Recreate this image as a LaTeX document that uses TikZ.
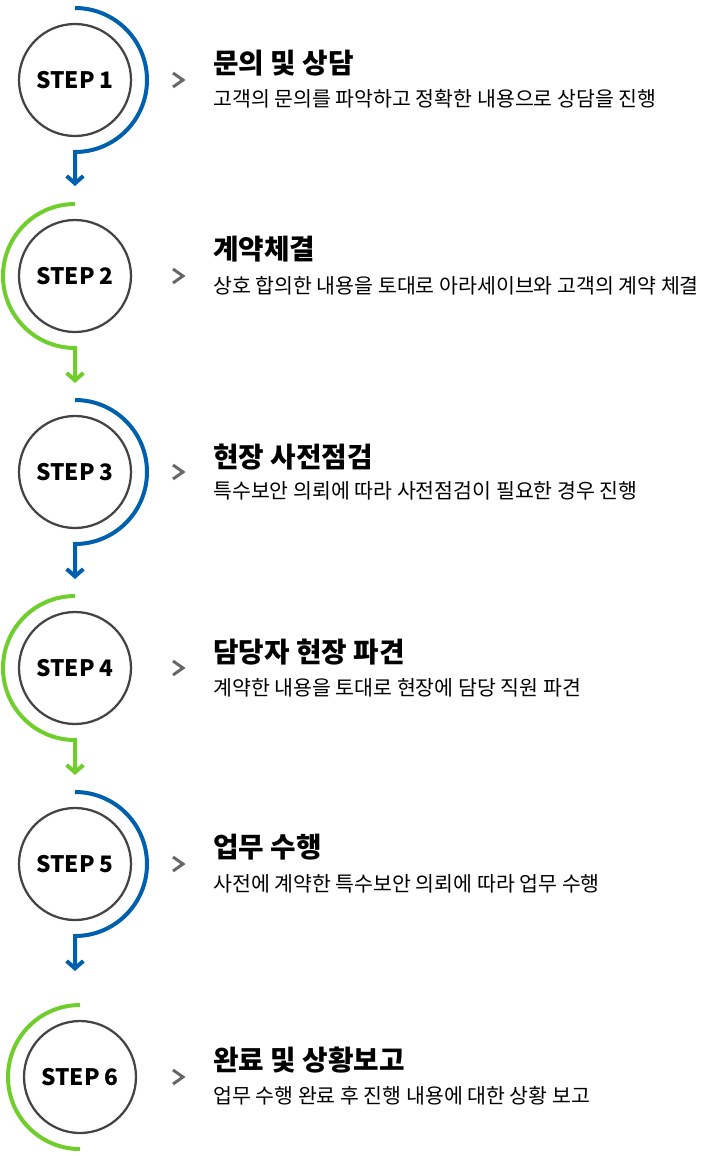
\documentclass[tikz,border=0pt]{standalone}
\usepackage{fontspec}
\setmainfont{Noto Sans CJK KR}
\usetikzlibrary{arrows.meta,calc}
\definecolor{stepblue}{RGB}{0,96,174}
\definecolor{stepgreen}{RGB}{112,206,44}
\definecolor{ringgray}{RGB}{68,68,68}
\definecolor{chevgray}{RGB}{102,102,102}
\tikzset{
	ring/.style={circle,draw=ringgray,line width=1.7pt,minimum size=84pt,inner sep=0pt,font=\bfseries\fontsize{17}{17}\selectfont},
	bluearc/.style={draw=stepblue,line width=3pt},
	greenarc/.style={draw=stepgreen,line width=3pt},
	flow/.style={-{Straight Barb[length=5.5pt,width=12.5pt]}},
	chev/.style={draw=chevgray,line width=2.2pt},
	headline/.style={anchor=west,inner sep=0pt,font=\bfseries\fontsize{20.8}{20.8}\selectfont},
	detail/.style={anchor=west,inner sep=0pt,font=\fontsize{15.4}{15.4}\selectfont}
}
\begin{document}
\begin{tikzpicture}[x=0.75pt,y=-0.75pt]
		\useasboundingbox(0,0) rectangle (704,1156);
		% step 1
		\node[ring](s1) at (75,80) {STEP 1};
		\coordinate(a1) at (75,186);
		\draw[bluearc,flow]($(s1.center)+(0,-72)$) arc (-90:90:72) -- (a1);
		\draw[chev](173,73)--(183,80)--(173,87);
		\node[headline](t1) at (213,63) {문의 및 상담};
		\node[detail](d1) at (213,99) {고객의 문의를 파악하고 정확한 내용으로 상담을 진행};
		% step 2
		\node[ring](s2) at (75,276) {STEP 2};
		\coordinate(a2) at (75,383);
		\draw[greenarc,flow]($(s2.center)+(0,-72)$) arc (270:90:72) -- (a2);
		\draw[chev](173,269)--(183,276)--(173,283);
		\node[headline](t2) at (213,249) {계약체결};
		\node[detail](d2) at (213,286) {상호 합의한 내용을 토대로 아라세이브와 고객의 계약 체결};
		% step 3
		\node[ring](s3) at (75,472) {STEP 3};
		\coordinate(a3) at (75,579);
		\draw[bluearc,flow]($(s3.center)+(0,-72)$) arc (-90:90:72) -- (a3);
		\draw[chev](173,465)--(183,472)--(173,479);
		\node[headline](t3) at (213,457) {현장 사전점검};
		\node[detail](d3) at (213,491) {특수보안 의뢰에 따라 사전점검이 필요한 경우 진행};
		% step 4
		\node[ring](s4) at (75,668) {STEP 4};
		\coordinate(a4) at (75,775);
		\draw[greenarc,flow]($(s4.center)+(0,-72)$) arc (270:90:72) -- (a4);
		\draw[chev](173,661)--(183,668)--(173,675);
		\node[headline](t4) at (213,652) {담당자 현장 파견};
		\node[detail](d4) at (213,688) {계약한 내용을 토대로 현장에 담당 직원 파견};
		% step 5
		\node[ring](s5) at (75,864) {STEP 5};
		\coordinate(a5) at (75,971);
		\draw[bluearc,flow]($(s5.center)+(0,-72)$) arc (-90:90:72) -- (a5);
		\draw[chev](173,857)--(183,864)--(173,871);
		\node[headline](t5) at (213,847) {업무 수행};
		\node[detail](d5) at (213,884) {사전에 계약한 특수보안 의뢰에 따라 업무 수행};
		% step 6
		\node[ring](s6) at (80,1077) {STEP 6};
		\draw[greenarc]($(s6.center)+(0,-72)$) arc (270:90:72);
		\draw[chev](173,1070)--(183,1077)--(173,1084);
		\node[headline](t6) at (213,1060) {완료 및 상황보고};
		\node[detail](d6) at (213,1096) {업무 수행 완료 후 진행 내용에 대한 상황 보고};
	    \end{tikzpicture}
\end{document}
